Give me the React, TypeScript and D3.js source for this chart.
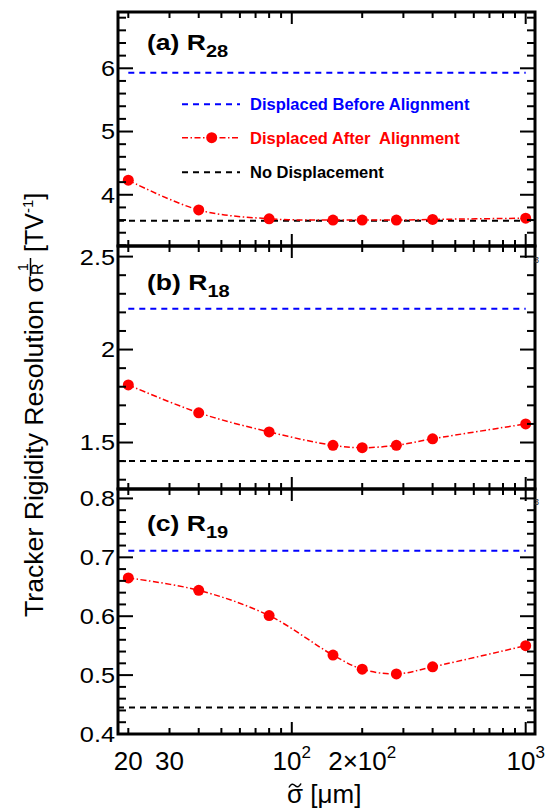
import React from "react";
import * as d3 from "d3";

// ---------- data ----------
const xValues = [20, 40, 80, 150, 200, 280, 400, 1000];
const afterAlignA = [4.23, 3.76, 3.62, 3.6, 3.6, 3.6, 3.61, 3.63];
const afterAlignB = [1.81, 1.66, 1.557, 1.485, 1.472, 1.485, 1.52, 1.6];
const afterAlignC = [0.665, 0.644, 0.601, 0.534, 0.51, 0.502, 0.514, 0.55];
const beforeAlign = [5.93, 2.22, 0.711];
const noDisplacement = [3.59, 1.4, 0.445];
const panelLetters = ["a", "b", "c"];
const panelSubscripts = ["28", "18", "19"];
const yDomains: [number, number][] = [
  [3.19, 6.89],
  [1.25, 2.557],
  [0.4, 0.816],
];
const yMajorTicks = [
  [4, 5, 6],
  [1.5, 2, 2.5],
  [0.4, 0.5, 0.6, 0.7, 0.8],
];
const yTickLabels = [
  ["4", "5", "6"],
  ["1.5", "2", "2.5"],
  ["0.4", "0.5", "0.6", "0.7", "0.8"],
];
const yMinorSteps = [0.2, 0.1, 0.02];
const xMajorTicks = [100, 1000];
const xMinorTicks = [20, 30, 40, 50, 60, 70, 80, 90, 200, 300, 400, 500, 600, 700, 800, 900];
const xLabelValues = [20, 30, 100, 200, 1000];
const xLabelMain = ["20", "30", "10", "2×10", "10"];
const xLabelSup = ["", "", "2", "2", "3"];
const legendLabels = ["Displaced Before Alignment", "Displaced After  Alignment", "No Displacement"];
const xDomain: [number, number] = [18.07, 1096];

// ---------- layout ----------
const W = 547;
const H = 810;
const L = 118;
const R = 535;
const panelTops = [12, 246, 489];
const panelBottoms = [246, 489, 734];
const titleBaselines = [49.5, 289.5, 531];
const FONT = "'Liberation Sans', Arial, Helvetica, sans-serif";
const BLUE = "#0000ff";
const RED = "#ff0000";

const afterSeries = [afterAlignA, afterAlignB, afterAlignC];

export default function App() {
  const x = d3.scaleLog().domain(xDomain).range([L, R]);

  const panels = [0, 1, 2].map((i) => {
    const y = d3.scaleLinear().domain(yDomains[i]).range([panelBottoms[i], panelTops[i]]);
    const step = yMinorSteps[i];
    const k0 = Math.ceil(yDomains[i][0] / step - 1e-6);
    const k1 = Math.floor(yDomains[i][1] / step + 1e-6);
    const minor = d3.range(k0, k1 + 1).map((k) => +(k * step).toFixed(4));
    const pts = xValues.map((v, j) => [v, afterSeries[i][j]] as [number, number]);
    const line = d3
      .line<[number, number]>()
      .x((d) => x(d[0]))
      .y((d) => y(d[1]))
      .curve(d3.curveCatmullRom.alpha(0.5));
    const top = panelTops[i];
    const bot = panelBottoms[i];
    return (
      <g key={i}>
        {/* reference lines */}
        <line x1={x(20)} x2={x(1000)} y1={y(beforeAlign[i])} y2={y(beforeAlign[i])}
          stroke={BLUE} strokeWidth={2} strokeDasharray="6,5" />
        <line x1={L} x2={R} y1={y(noDisplacement[i])} y2={y(noDisplacement[i])}
          stroke="#000" strokeWidth={2} strokeDasharray="6,5" />
        <path d={line(pts) || ""} fill="none" stroke={RED} strokeWidth={1.5}
          strokeDasharray="6,2.5,1.5,2.5" />
        {pts.map((p, j) => (
          <circle key={j} cx={x(p[0])} cy={y(p[1])} r={5.5} fill={RED} />
        ))}
        {/* y ticks */}
        {minor.map((v, j) => {
          const major = yMajorTicks[i].some((m) => Math.abs(m - v) < 1e-6);
          const len = major ? 15 : 8;
          return (
            <g key={"yt" + j}>
              <line x1={L} x2={L + len} y1={y(v)} y2={y(v)} stroke="#000" strokeWidth={2} />
              <line x1={R} x2={R - len} y1={y(v)} y2={y(v)} stroke="#000" strokeWidth={2} />
            </g>
          );
        })}
        {/* x ticks top & bottom */}
        {[...xMinorTicks, ...xMajorTicks].map((v, j) => {
          const len = xMajorTicks.includes(v) ? 12 : 6;
          return (
            <g key={"xt" + j}>
              <line x1={x(v)} x2={x(v)} y1={top} y2={top + len} stroke="#000" strokeWidth={2} />
              <line x1={x(v)} x2={x(v)} y1={bot} y2={bot - len} stroke="#000" strokeWidth={2} />
            </g>
          );
        })}
        {/* y tick labels */}
        {yMajorTicks[i].map((v, j) => (
          <g key={"yl" + j} transform={`translate(115,${y(v)}) scale(1.15,1)`}>
            <text textAnchor="end" dy="0.36em" fontSize={22} fontFamily={FONT} fill="#000">
              {yTickLabels[i][j]}
            </text>
          </g>
        ))}
        {/* panel title */}
        <g transform={`translate(147,${titleBaselines[i]}) scale(1.18,1)`}>
          <text fontSize={22.5} fontWeight="bold" fontFamily={FONT} fill="#000">
            {`(${panelLetters[i]}) R`}
            <tspan fontSize={17} dy={7}>{panelSubscripts[i]}</tspan>
          </text>
        </g>
        {/* frame */}
        <rect x={L} y={top} width={R - L} height={bot - top} fill="none" stroke="#000" strokeWidth={3} />
      </g>
    );
  });

  // legend (panel a)
  const legendRows = [104.3, 137.7, 172.3];
  const legendColors = [BLUE, RED, "#000"];

  return (
    <svg width={W} height={H} style={{ position: "absolute", left: 0, top: 0, background: "#fff" }}>
      <rect x={0} y={0} width={W} height={H} fill="#fff" />
      {panels}

      {/* tiny clipped label fragments at right edge */}
      {[263, 505].map((yy, j) => (
        <text key={"frag" + j} x={534} y={yy} fontSize={9} fontFamily={FONT} fill="#333">3</text>
      ))}

      {/* legend */}
      {legendRows.map((cy, j) => (
        <g key={"lg" + j}>
          {j === 1 ? (
            <>
              <line x1={182} x2={240} y1={cy} y2={cy} stroke={RED} strokeWidth={1.5}
                strokeDasharray="6,2.5,1.5,2.5" />
              <circle cx={211.7} cy={cy} r={5.5} fill={RED} />
            </>
          ) : (
            <line x1={182} x2={240} y1={cy} y2={cy} stroke={legendColors[j]} strokeWidth={2}
              strokeDasharray="6,5" />
          )}
          <text x={250} y={cy + 6} fontSize={16.5} fontWeight="bold" fontFamily={FONT}
            fill={legendColors[j]} style={{ whiteSpace: "pre" }}>
            {legendLabels[j]}
          </text>
        </g>
      ))}

      {/* x tick labels */}
      {xLabelValues.map((v, j) => (
        <text key={"xl" + j} x={x(v)} y={770} textAnchor="middle" fontSize={26} fontFamily={FONT} fill="#000">
          {xLabelMain[j]}
          {xLabelSup[j] && (
            <tspan fontSize={17} dy={-12}>{xLabelSup[j]}</tspan>
          )}
        </text>
      ))}

      {/* x axis title: sigma with a tilde drawn above it */}
      <text x={287} y={803} fontSize={26} fontFamily={FONT} fill="#000" style={{ whiteSpace: "pre" }}>
        σ [μm]
      </text>
      <path d="M289,787.5 C291,783.5 293,783.5 295,785.5 C297,787.5 299,787.5 301,783.5"
        fill="none" stroke="#000" strokeWidth={1.6} />

      {/* y axis title */}
      <g transform="translate(43,0) rotate(-90)">
        <text x={-617} y={0} fontSize={25} fontFamily={FONT} fill="#000" textLength={341}
          lengthAdjust="spacingAndGlyphs">
          Tracker Rigidity Resolution σ
        </text>
        <text x={-275} y={0} fontSize={16} fontFamily={FONT} fill="#000">R</text>
        <line x1={-276} x2={-258} y1={-12.5} y2={-12.5} stroke="#000" strokeWidth={1.5} />
        <text x={-271} y={-15} fontSize={14} fontFamily={FONT} fill="#000">1</text>
        <text x={-252} y={0} fontSize={25} fontFamily={FONT} fill="#000">
          [TV
          <tspan fontSize={15} dy={-10}>-1</tspan>
          <tspan dy={10}>]</tspan>
        </text>
      </g>
    </svg>
  );
}
